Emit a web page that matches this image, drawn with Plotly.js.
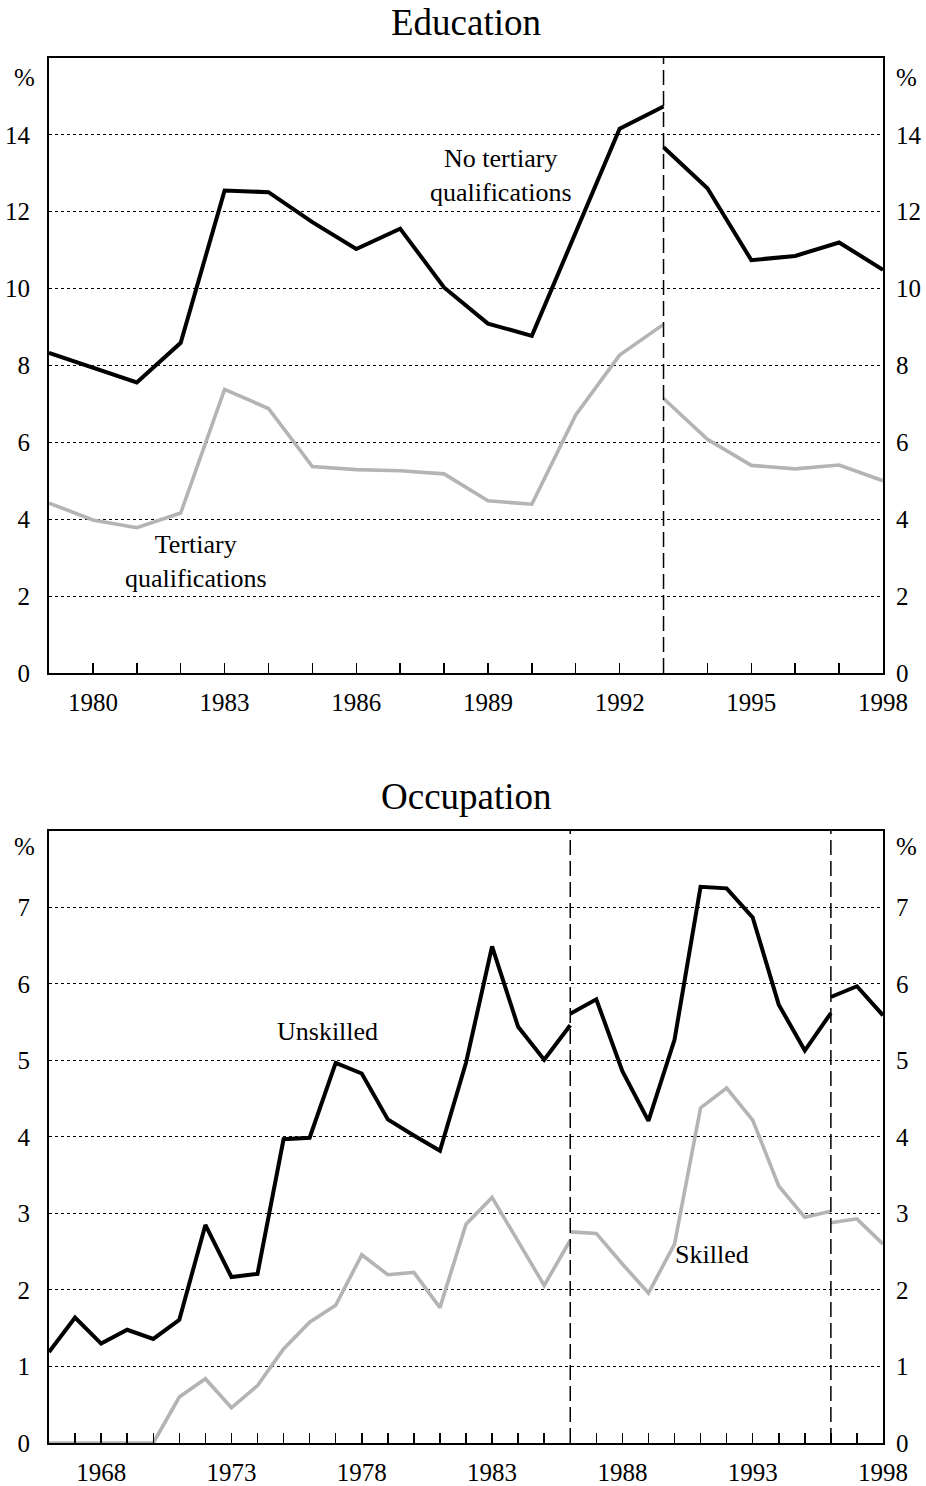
<!DOCTYPE html>
<html>
<head>
<meta charset="utf-8">
<script src="https://cdn.plot.ly/plotly-3.0.1.min.js"></script>
<style>
  body { margin: 0; background: #fff; }
  #plot { width: 926px; height: 1486px; }
</style>
</head>
<body>
<div id="plot"></div>
<script>
// Education - Jahre und Werte (Bruch 1993: alte und neue Reihe)
const eduYearsA = [1979, 1980, 1981, 1982, 1983, 1984, 1985, 1986, 1987, 1988, 1989, 1990, 1991, 1992, 1993];
const eduNoTertA = [8.33, 7.95, 7.56, 8.59, 12.55, 12.51, 11.73, 11.03, 11.56, 10.03, 9.09, 8.77, 11.45, 14.16, 14.74];
const eduTertA = [4.42, 3.98, 3.78, 4.16, 7.38, 6.88, 5.37, 5.29, 5.26, 5.18, 4.48, 4.39, 6.71, 8.27, 9.07];
const eduYearsB = [1993, 1994, 1995, 1996, 1997, 1998];
const eduNoTertB = [13.68, 12.61, 10.74, 10.85, 11.2, 10.49];
const eduTertB = [7.14, 6.08, 5.4, 5.31, 5.41, 5.0];
const eduBreaks = [1993];
const eduTickLabels = [1980, 1983, 1986, 1989, 1992, 1995, 1998];
const eduYTicks = [0, 2, 4, 6, 8, 10, 12, 14];

// Occupation - drei Abschnitte (Brueche 1986 und 1996)
const occYearsA = [1966, 1967, 1968, 1969, 1970, 1971, 1972, 1973, 1974, 1975, 1976, 1977, 1978, 1979, 1980, 1981, 1982, 1983, 1984, 1985, 1986];
const occUnskA = [1.19, 1.64, 1.30, 1.48, 1.36, 1.61, 2.85, 2.17, 2.21, 3.97, 3.99, 4.97, 4.83, 4.23, 4.02, 3.82, 4.97, 6.49, 5.44, 5.01, 5.46];
const occSkA = [0, 0, 0, 0, 0, 0.60, 0.84, 0.46, 0.75, 1.23, 1.58, 1.80, 2.46, 2.20, 2.23, 1.77, 2.86, 3.21, 2.63, 2.06, 2.65];
const occYearsB = [1986, 1987, 1988, 1989, 1990, 1991, 1992, 1993, 1994, 1995, 1996];
const occUnskB = [5.61, 5.80, 4.86, 4.21, 5.27, 7.27, 7.25, 6.87, 5.73, 5.13, 5.62];
const occSkB = [2.76, 2.74, 2.34, 1.96, 2.60, 4.38, 4.64, 4.22, 3.36, 2.95, 3.03];
const occYearsC = [1996, 1997, 1998];
const occUnskC = [5.83, 5.97, 5.59];
const occSkC = [2.88, 2.93, 2.60];
const occBreaks = [1986, 1996];
const occTickLabels = [1968, 1973, 1978, 1983, 1988, 1993, 1998];
const occYTicks = [0, 1, 2, 3, 4, 5, 6, 7];

const FONT = "'Liberation Serif', 'Times New Roman', serif";
const BLACK = "#000000";
const GREY = "#b4b4b4";

function range(a, b) {
  const r = [];
  for (let i = a; i <= b; i++) r.push(i);
  return r;
}

function seg(x, y, color, xa, ya) {
  return {
    x, y, xaxis: xa, yaxis: ya,
    mode: "lines", type: "scatter", hoverinfo: "skip",
    line: { color, width: color === BLACK ? 4 : 3.6 },
    showlegend: false
  };
}

const traces = [
  seg(eduYearsA, eduTertA, GREY, "x", "y"),
  seg(eduYearsB, eduTertB, GREY, "x", "y"),
  seg(eduYearsA, eduNoTertA, BLACK, "x", "y"),
  seg(eduYearsB, eduNoTertB, BLACK, "x", "y"),
  seg(occYearsA, occSkA, GREY, "x2", "y3"),
  seg(occYearsB, occSkB, GREY, "x2", "y3"),
  seg(occYearsC, occSkC, GREY, "x2", "y3"),
  seg(occYearsA, occUnskA, BLACK, "x2", "y3"),
  seg(occYearsB, occUnskB, BLACK, "x2", "y3"),
  seg(occYearsC, occUnskC, BLACK, "x2", "y3"),
  // leere Spuren, damit die rechten Achsen gezeichnet werden
  { x: [], y: [], xaxis: "x", yaxis: "y2", type: "scatter", showlegend: false },
  { x: [], y: [], xaxis: "x2", yaxis: "y4", type: "scatter", showlegend: false }
];

function xAxis(yr0, yr1, labels, anchor) {
  const vals = range(yr0, yr1);
  return {
    range: [yr0, yr1],
    anchor,
    tickvals: vals,
    ticktext: vals.map(v => labels.includes(v) ? String(v) : ""),
    ticks: "inside", ticklen: 10, tickwidth: 1.5, tickcolor: BLACK,
    ticklabelstandoff: 6,
    tickfont: { family: FONT, size: 25, color: BLACK },
    showline: true, linecolor: BLACK, linewidth: 2, mirror: true,
    showgrid: false, zeroline: false, fixedrange: true
  };
}

function yAxis(max, ticks, domain, anchor, side, overlay) {
  const ax = {
    range: [0, max],
    anchor,
    side,
    tickvals: ticks,
    ticktext: ticks.map(String),
    ticks: "",
    ticklabelstandoff: 12,
    tickfont: { family: FONT, size: 25, color: BLACK },
    zeroline: false, fixedrange: true
  };
  if (overlay) {
    ax.overlaying = overlay;
    ax.showgrid = false;
    ax.showline = false;
  } else {
    ax.domain = domain;
    ax.showgrid = true;
    ax.gridcolor = BLACK;
    ax.griddash = "dot";
    ax.gridwidth = 1;
    ax.showline = true;
    ax.linecolor = BLACK;
    ax.linewidth = 2;
    ax.mirror = true;
  }
  return ax;
}

const shapes = [];
eduBreaks.forEach(b => shapes.push({
  type: "line", xref: "x", yref: "y domain", x0: b, x1: b, y0: 0, y1: 1,
  line: { color: BLACK, width: 1.5, dash: "15px,6px" }
}));
occBreaks.forEach(b => shapes.push({
  type: "line", xref: "x2", yref: "y3 domain", x0: b, x1: b, y0: 0, y1: 1,
  line: { color: BLACK, width: 1.5, dash: "15px,6px" }
}));

const txt = (x, y, xref, yref, text, size) => ({
  x, y, xref, yref, text, showarrow: false,
  xanchor: "center", yanchor: "middle",
  font: { family: FONT, size: size || 26, color: BLACK }
});

const annotations = [
  txt(0.5, 1.0, "paper", "paper", "Education", 37),
  txt(0.5, 0.4419, "paper", "paper", "Occupation", 37),
  txt(1989.3, 12.95, "x", "y", "No tertiary<br>qualifications"),
  txt(1982.35, 2.9, "x", "y", "Tertiary<br>qualifications"),
  txt(1976.7, 5.38, "x2", "y3", "Unskilled"),
  txt(1991.45, 2.46, "x2", "y3", "Skilled"),
  // Prozentzeichen oben an beiden Achsen
  txt(1979, 15.5, "x", "y", "%", 25),
  txt(1998, 15.5, "x", "y", "%", 25),
  txt(1966, 7.8, "x2", "y3", "%", 25),
  txt(1998, 7.8, "x2", "y3", "%", 25)
];
// Titel ueber dem Rahmen verschieben
annotations[0].yshift = 36;
annotations[1].yshift = 34;
annotations[6].xshift = -25; annotations[7].xshift = 23;
annotations[8].xshift = -25; annotations[9].xshift = 23;

const layout = {
  width: 926, height: 1486,
  margin: { l: 49, r: 43, t: 58, b: 43 },
  paper_bgcolor: "#fff", plot_bgcolor: "#fff",
  showlegend: false,
  font: { family: FONT, color: BLACK },
  xaxis: xAxis(1979, 1998, eduTickLabels, "y"),
  xaxis2: xAxis(1966, 1998, occTickLabels, "y3"),
  yaxis: yAxis(16, eduYTicks, [0.556, 1], "x", "left"),
  yaxis2: yAxis(16, eduYTicks, null, "x", "right", "y"),
  yaxis3: yAxis(8, occYTicks, [0, 0.4419], "x2", "left"),
  yaxis4: yAxis(8, occYTicks, null, "x2", "right", "y3"),
  shapes,
  annotations
};

Plotly.newPlot("plot", traces, layout, { displayModeBar: false, staticPlot: true });
</script>
</body>
</html>
